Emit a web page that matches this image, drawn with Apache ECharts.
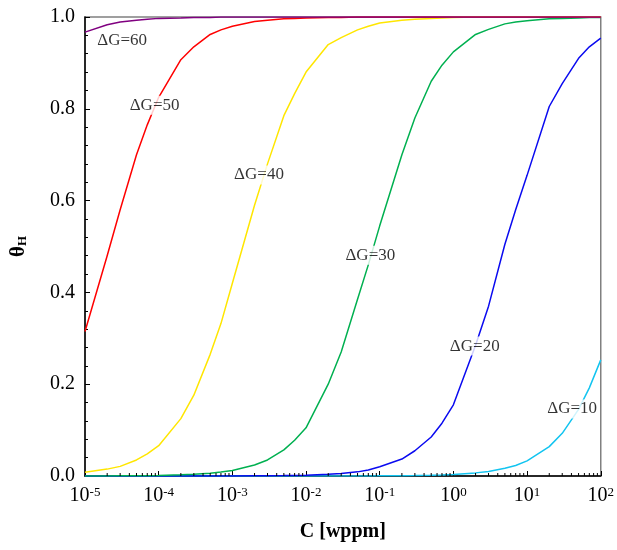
<!DOCTYPE html>
<html>
<head>
<meta charset="utf-8">
<script src="https://cdn.jsdelivr.net/npm/echarts@6/dist/echarts.min.js"></script>
<style>html,body{margin:0;padding:0;background:#fff}#c{width:617px;height:550px}</style>
</head>
<body>
<div id="c"></div>
<script>
// Concentration C [wppm]
const conc = [1e-5,2e-5,3e-5,5e-5,7e-5, 1e-4,2e-4,3e-4,5e-4,7e-4, 1e-3,2e-3,3e-3,5e-3,7e-3,
              1e-2,2e-2,3e-2,5e-2,7e-2, 0.1,0.2,0.3,0.5,0.7, 1,2,3,5,7, 10,20,30,50,70, 100];
// Coverage theta_H for each dG (kJ/mol)
const dG10 = [0,0,0,0,0, 0,0,0,0,0, 0,0,0,0,0, 0,0,0,0,0,
              0.0003,0.0007,0.001,0.0017,0.0024, 0.0034,0.0068,0.01,0.017,0.023, 0.033,0.064,0.093,0.145,0.192, 0.253];
const dG20 = [0,0,0,0,0, 0,0,0.0001,0.0001,0.0001, 0.0002,0.0004,0.0005,0.0009,0.0013,
              0.0018,0.0036,0.0055,0.009,0.013, 0.02,0.037,0.055,0.085,0.115, 0.155,0.285,0.37,0.505,0.58, 0.655,0.805,0.855,0.91,0.935, 0.954];
const dG30 = [0.0001,0.0002,0.0004,0.0006,0.0008, 0.0012,0.0025,0.0037,0.006,0.0085, 0.012,0.024,0.035,0.057,0.078,
              0.105,0.20,0.27,0.385,0.46, 0.545,0.70,0.78,0.86,0.895, 0.924,0.962,0.973,0.985,0.989, 0.992,0.996,0.997,0.998,0.999, 0.999];
const dG40 = [0.008,0.015,0.021,0.035,0.048, 0.066,0.125,0.176,0.265,0.332, 0.42,0.59,0.68,0.785,0.833,
              0.88,0.94,0.955,0.972,0.98, 0.987,0.993,0.995,0.997,0.998, 0.999,1,1,1,1, 1,1,1,1,1, 1];
const dG50 = [0.315,0.48,0.58,0.70,0.765, 0.825,0.907,0.935,0.962,0.972, 0.98,0.99,0.993,0.996,0.997,
              0.998,0.999,0.999,1,1, 1,1,1,1,1, 1,1,1,1,1, 1,1,1,1,1, 1];
const dG60 = [0.967,0.983,0.989,0.993,0.995, 0.997,0.998,0.999,0.999,1, 1,1,1,1,1,
              1,1,1,1,1, 1,1,1,1,1, 1,1,1,1,1, 1,1,1,1,1, 1];
const seriesNames = ['ΔG=10','ΔG=20','ΔG=30','ΔG=40','ΔG=50','ΔG=60'];
// Curve label anchors (data space)
const labelC = [41, 1.95, 0.0746, 2.3e-3, 8.8e-5, 3.2e-5];
const labelTheta = [0.146, 0.283, 0.481, 0.656, 0.808, 0.948];
// Minor tick values on the log axis
const minorTickVals = [];
[1e-5,1e-4,1e-3,1e-2,1e-1,1,10].forEach(function(d){ [2,3,4,5,6,7,8,9].forEach(function(m){ minorTickVals.push(+(m*d).toPrecision(3)); }); });

const colors = ['#12C4F0','#0A0AF0','#00B050','#FFE600','#FF0000','#800080'];
const FONT = '"Liberation Serif","Times New Roman",serif';
const allSeries = [dG10,dG20,dG30,dG40,dG50,dG60];

const series = allSeries.map(function(vals, i){
  return {
    name: seriesNames[i], type:'line', showSymbol:false, symbol:'none',
    data: conc.map(function(c, j){ return [c, vals[j]]; }),
    lineStyle:{color:colors[i], width:1.5}, itemStyle:{color:colors[i]},
    clip:true, z:2+i, animation:false
  };
});
series.push({
  type:'scatter', symbolSize:0, z:20, animation:false, silent:true,
  data: seriesNames.map(function(n,i){ return {name:n, value:[labelC[i], labelTheta[i]]}; }),
  label:{show:true, position:'inside', formatter:'{b}', fontFamily:FONT, fontSize:17, color:'#000',
         backgroundColor:'#fff', padding:[1,1,1,1]}
});
series.push({
  type:'custom', z:30, animation:false, silent:true, clip:false,
  data: minorTickVals.map(function(v){ return [v, 0]; }),
  renderItem:function(params, api){
    const p = api.coord([api.value(0), 0]);
    return {type:'line', shape:{x1:p[0], y1:p[1], x2:p[0], y2:p[1]-3}, style:{stroke:'#000', lineWidth:1}};
  }
});

const chart = echarts.init(document.getElementById('c'), null, {renderer:'canvas'});
chart.setOption({
  animation:false,
  backgroundColor:'#fff',
  grid:{left:85, right:13, top:17, bottom:74, show:true, borderColor:'#808080', borderWidth:1.5, backgroundColor:'transparent'},
  xAxis:{
    type:'log', logBase:10, min:1e-5, max:100, interval:1,
    name:'C [wppm]', nameLocation:'middle', nameGap:46,
    nameTextStyle:{fontFamily:FONT, fontSize:20, fontWeight:'bold', color:'#000'},
    axisLine:{show:true, lineStyle:{color:'#000', width:1.5}},
    axisTick:{show:true, inside:true, length:5, lineStyle:{color:'#000'}},
    splitLine:{show:false},
    axisLabel:{margin:10, color:'#000',
      formatter:function(v){ const e = Math.round(Math.log10(v)); return '{b|10}{s|' + e + '}'; },
      rich:{b:{fontFamily:FONT, fontSize:20, color:'#000'}, s:{fontFamily:FONT, fontSize:13, color:'#000', verticalAlign:'top'}}}
  },
  yAxis:{
    type:'value', min:0, max:1, interval:0.2,
    name:'{t|θ}{h|H}', nameLocation:'middle', nameGap:56, nameRotate:90,
    nameTextStyle:{rich:{t:{fontFamily:FONT, fontSize:21, fontWeight:'bold', color:'#000'}, h:{fontFamily:FONT, fontSize:13, fontWeight:'bold', color:'#000', verticalAlign:'bottom'}}},
    axisLine:{show:true, lineStyle:{color:'#000', width:1.5}},
    axisTick:{show:true, inside:true, length:5, lineStyle:{color:'#000'}},
    minorTick:{show:true, splitNumber:5, length:3, lineStyle:{color:'#000'}},
    splitLine:{show:false},
    axisLabel:{margin:10, fontFamily:FONT, fontSize:20, color:'#000', formatter:function(v){ return v.toFixed(1); }}
  },
  series: series
});
</script>
</body>
</html>
